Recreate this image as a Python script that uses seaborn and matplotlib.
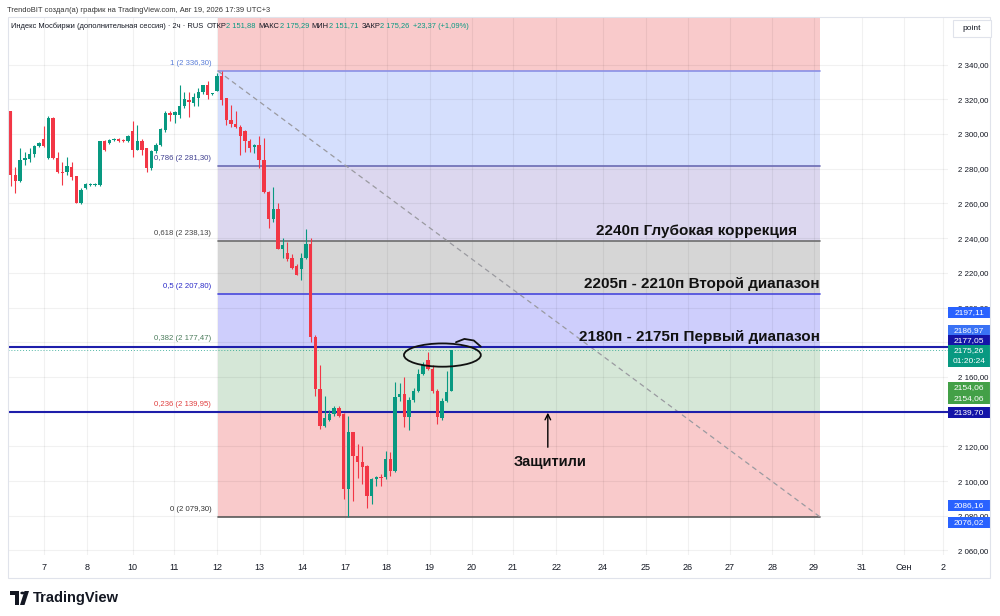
import numpy as np
import pandas as pd
import matplotlib
matplotlib.use("Agg")
import matplotlib.pyplot as plt
import seaborn as sns
from matplotlib.patches import Rectangle, Ellipse, Polygon, Circle
import matplotlib.transforms as mtransforms

# ---------------- data ----------------
opens = [2292.8, 2313.0, 2276.4, 2273.1, 2285.1, 2285.5, 2288.3, 2293.2, 2297.0, 2286.0,
         2309.2, 2286.4, 2278.3, 2277.8, 2281.2, 2275.8, 2260.4, 2268.7, 2270.6, 2270.5,
         2270.6, 2295.7, 2295.0, 2296.6, 2297.0, 2296.6, 2295.7, 2302.0, 2290.9, 2295.7,
         2291.8, 2280.3, 2289.9, 2293.8, 2302.4, 2312.1, 2311.0, 2311.1, 2315.9, 2319.8,
         2317.8, 2320.5, 2324.3, 2328.4, 2323.0, 2325.0, 2333.2, 2320.7, 2308.2, 2305.7,
         2304.3, 2301.8, 2296.0, 2292.6, 2293.8, 2285.1, 2266.8, 2251.0, 2256.8, 2234.0,
         2231.7, 2228.6, 2223.8, 2222.0, 2228.6, 2236.4, 2183.0, 2153.0, 2131.9, 2135.2,
         2138.7, 2142.2, 2138.7, 2095.3, 2128.0, 2114.6, 2110.7, 2108.8, 2091.4, 2101.1,
         2102.4, 2102.4, 2112.7, 2105.9, 2148.7, 2150.2, 2137.1, 2146.8, 2152.1, 2161.8,
         2169.5, 2164.7, 2152.1, 2136.4, 2146.0, 2151.88]
highs = [2317.8, 2313.5, 2281.2, 2291.8, 2289.9, 2291.8, 2293.8, 2295.5, 2304.4, 2310.5,
         2310.0, 2289.9, 2284.1, 2287.0, 2284.1, 2276.0, 2268.7, 2271.7, 2271.8, 2271.5,
         2296.2, 2296.3, 2297.0, 2297.8, 2297.5, 2297.0, 2299.6, 2307.2, 2305.3, 2297.0,
         2292.0, 2290.9, 2294.7, 2303.5, 2313.0, 2313.0, 2313.0, 2328.4, 2324.0, 2324.2,
         2323.6, 2326.3, 2328.5, 2330.3, 2323.8, 2335.0, 2336.3, 2321.0, 2316.9, 2313.0,
         2305.0, 2302.5, 2297.0, 2294.0, 2298.6, 2297.6, 2267.0, 2269.7, 2260.0, 2239.8,
         2237.7, 2231.0, 2225.0, 2231.2, 2245.2, 2240.2, 2184.0, 2166.6, 2149.2, 2141.0,
         2143.5, 2143.5, 2139.0, 2137.7, 2128.5, 2121.5, 2120.3, 2109.5, 2102.0, 2103.0,
         2104.0, 2117.5, 2116.5, 2156.9, 2156.4, 2160.2, 2148.3, 2153.5, 2164.7, 2168.5,
         2174.3, 2167.0, 2153.0, 2148.0, 2163.7, 2175.29]
lows = [2292.3, 2270.0, 2265.8, 2272.5, 2282.2, 2283.8, 2287.0, 2292.5, 2292.4, 2285.5,
        2285.7, 2277.4, 2270.6, 2276.4, 2273.5, 2260.0, 2259.8, 2268.3, 2270.2, 2270.0,
        2270.2, 2290.4, 2294.5, 2296.2, 2295.5, 2295.5, 2295.1, 2287.0, 2290.5, 2288.0,
        2277.8, 2279.3, 2289.3, 2293.0, 2301.0, 2307.2, 2306.5, 2309.0, 2315.0, 2309.7,
        2316.0, 2316.0, 2323.0, 2320.2, 2322.5, 2324.5, 2316.9, 2305.3, 2304.3, 2303.4,
        2288.0, 2289.9, 2289.5, 2289.3, 2280.3, 2266.0, 2245.6, 2249.4, 2233.6, 2228.6,
        2227.0, 2222.0, 2218.5, 2215.7, 2228.0, 2180.0, 2149.0, 2130.0, 2131.0, 2134.8,
        2137.5, 2137.0, 2089.5, 2079.3, 2088.6, 2102.0, 2098.2, 2084.7, 2086.6, 2097.0,
        2097.0, 2101.1, 2103.0, 2105.5, 2146.4, 2131.0, 2129.2, 2145.5, 2151.5, 2161.0,
        2164.0, 2151.0, 2132.9, 2135.2, 2145.5, 2151.71]
closes = [2314.0, 2276.4, 2273.1, 2285.1, 2286.0, 2288.3, 2293.2, 2294.7, 2293.2, 2309.2,
          2286.4, 2278.3, 2277.4, 2281.6, 2275.4, 2260.4, 2267.7, 2271.2, 2271.3, 2271.0,
          2295.7, 2290.9, 2296.6, 2297.3, 2296.2, 2295.9, 2299.0, 2290.9, 2295.7, 2290.9,
          2280.3, 2289.9, 2293.8, 2302.8, 2312.1, 2311.1, 2312.5, 2315.9, 2320.2, 2318.2,
          2321.3, 2324.0, 2328.0, 2322.7, 2323.6, 2333.2, 2319.8, 2308.2, 2305.7, 2304.3,
          2299.1, 2296.0, 2292.2, 2293.8, 2285.1, 2266.8, 2251.0, 2256.8, 2234.0, 2236.0,
          2227.9, 2222.8, 2219.0, 2228.6, 2236.4, 2183.0, 2153.0, 2131.9, 2136.4, 2138.7,
          2142.2, 2137.7, 2095.3, 2128.0, 2114.6, 2110.7, 2108.2, 2091.4, 2101.1, 2102.4,
          2101.7, 2112.7, 2105.9, 2148.7, 2150.2, 2137.1, 2146.8, 2152.1, 2161.8, 2166.6,
          2164.7, 2151.7, 2137.1, 2146.0, 2151.1, 2175.26]

date_labels = ["7", "8", "10", "11", "12", "13", "14", "17", "18", "19", "20", "21",
               "22", "24", "25", "26", "27", "28", "29", "31", "Сен", "2"]
date_pos = [8.1, 17.2, 27.0, 35.9, 45.0, 54.1, 63.3, 72.3, 81.2, 90.4, 99.4, 108.1,
            117.4, 127.3, 136.5, 145.5, 154.4, 163.5, 172.4, 182.6, 191.6, 200.0]

price_ticks = [2060, 2080, 2100, 2120, 2140, 2160, 2180, 2200, 2220, 2240,
               2260, 2280, 2300, 2320, 2340]
hidden_ticks = [2140, 2180]   # fully covered by price tags in the reference

fib_ratios = ["1", "0,786", "0,618", "0,5", "0,382", "0,236", "0"]
fib_prices = [2336.30, 2281.30, 2238.13, 2207.80, 2177.47, 2139.95, 2079.30]
fib_start, fib_end = 45.2, 173.7

user_lines = [2177.05, 2139.70]
last_price = 2175.26

tag_values = [2197.11, 2186.97, 2177.05, 2175.26, 2154.06, 2139.70, 2086.16, 2076.02]
tag_texts = ["2197,11", "2186,97", "2177,05", "2175,26\n01:20:24", "2154,06\n2154,06",
             "2139,70", "2086,16", "2076,02"]

notes = ["2240п Глубокая коррекция", "2205п - 2210п Второй диапазон",
         "2180п - 2175п Первый диапазон"]
note_prices = [2244.1, 2213.6, 2183.0]

df = pd.DataFrame({"o": opens, "h": highs, "l": lows, "c": closes})
df["i"] = np.arange(len(df))

# ---------------- style ----------------
sns.set_style("white")
plt.rcParams['font.family'] = ['Liberation Sans', 'DejaVu Sans']

W, H = 1000, 616
fig = plt.figure(figsize=(W / 100, H / 100), dpi=100)
ax = fig.add_axes([8 / W, 1 - 555 / H, 940 / W, 538 / H])
XMIN, XMAX = 0.4, 201.0
YMIN, YMAX = 2057.4, 2367.4
ax.set_xlim(XMIN, XMAX)
ax.set_ylim(YMIN, YMAX)
for s in ax.spines.values():
    s.set_visible(False)

GREEN = "#089981"
RED = "#f23645"

# grid
for p in price_ticks:
    ax.axhline(p, color=(0, 0, 0, 0.055), lw=0.8, zorder=0.3)
for d in date_pos:
    ax.axvline(d, color=(0, 0, 0, 0.055), lw=0.8, zorder=0.3)

# fib zones
zone_colors = ["#f9cacb", "#d5dffd", "#dcd7ef", "#d6d6d6", "#cecefc", "#d5e7d7", "#f9cacb"]
bounds = [YMAX + 5] + fib_prices
for k in range(len(zone_colors)):
    ax.fill_between([fib_start, fib_end], bounds[k + 1], bounds[k],
                    color=zone_colors[k], lw=0, zorder=0.2)
line_colors = ["#8a90e6", "#6b6bb3", "#6e6e6e", "#4848dc", "#4f8a63", "#e04848", "#5a5a5a"]
label_colors = ["#5a7ed8", "#3f3f8f", "#444444", "#2b2bc8", "#4c7c5c", "#e04040", "#333333"]
for r, p, lc, tc in zip(fib_ratios, fib_prices, line_colors, label_colors):
    ax.plot([fib_start, fib_end], [p, p], color=lc, lw=1.2, zorder=1)
    pr = f"{p:,.2f}".replace(",", " ").replace(".", ",")
    ax.text(fib_start - 1.4, p + 4.4, f"{r} ({pr})", ha="right", va="center",
            fontsize=5.6, color=tc, zorder=4)

# diagonal dashed trend line
trend = pd.DataFrame({"x": [fib_start, fib_end], "y": [fib_prices[0], fib_prices[-1]]})
sns.lineplot(data=trend, x="x", y="y", ax=ax, color="#9a9aa0", lw=0.9,
             linestyle=(0, (4, 3)), zorder=1.1)

# last price dotted line
ax.axhline(last_price, color=GREEN, lw=0.7, ls=(0, (1, 2)), alpha=0.7, zorder=1.2)
# user horizontal lines
for p in user_lines:
    ax.axhline(p, color="#1e1eaa", lw=1.5, zorder=2)

# candles
up = df["c"] >= df["o"]
cols = np.where(up, GREEN, RED)
ax.vlines(df["i"], df["l"], df["h"], colors=cols, lw=0.8, zorder=3)
body_lo = np.minimum(df["o"], df["c"])
body_h = np.maximum(np.abs(df["c"] - df["o"]), 0.5)
ax.bar(df["i"], body_h, bottom=body_lo, width=0.72, color=cols, lw=0, zorder=3.1)

# annotations
for k in range(3):
    ax.text(168.8 if k == 0 else 173.7, note_prices[k], notes[k], ha="right", va="center",
            fontsize=11, fontweight="bold", color="#111111", zorder=6)
ax.text(116.1, 2111.0, "Защитили", ha="center", va="center", fontsize=10.5,
        fontweight="bold", color="#111111", zorder=6)
ax.annotate("", xy=(115.6, 2139.4), xytext=(115.6, 2119.5),
            arrowprops=dict(arrowstyle="->", lw=1.0, color="black",
                            shrinkA=0, shrinkB=0, mutation_scale=10), zorder=6)

# hand drawn ellipse
ax.add_patch(Ellipse((93.1, 2172.6), 16.4, 13.4, fill=False, ec="#111111", lw=1.3, zorder=6))
ax.plot([96.0, 97.8, 99.8, 101.3], [2180.0, 2181.9, 2181.0, 2177.5], color="#111111",
        lw=1.3, zorder=6)

# axes ticks
ax.yaxis.tick_right()
ax.set_yticks(price_ticks)
ax.set_yticklabels(["" if p in hidden_ticks else f"{p:,}".replace(",", " ") + ",00"
                    for p in price_ticks])
ax.tick_params(axis="y", length=0, pad=7, labelsize=5.7, labelcolor="#131722")
ax.set_xticks(date_pos)
ax.set_xticklabels(date_labels)
ax.tick_params(axis="x", length=0, pad=6, labelsize=6.5, labelcolor="#131722")
ax.set_xlabel("")
ax.set_ylabel("")

# price tags
tag_colors = ["#2962ff", "#3a72f5", "#1414a8", "#089981", "#43a047", "#1414a8", "#2962ff", "#2962ff"]
tag_shift = [0, 0, 7, 0, 0, 0, 0, 0]   # pixel shift (up) to avoid overlap
ppx = (YMAX - YMIN) / 538.0
row = 11 * ppx
blend = mtransforms.blended_transform_factory(ax.transAxes, ax.transData)
for v, t, c, sh in zip(tag_values, tag_texts, tag_colors, tag_shift):
    yc = v + sh * ppx
    n = t.count("\n") + 1
    top = yc + row / 2
    ax.add_patch(Rectangle((1.0, top - n * row), 0.0447, n * row, transform=blend,
                           facecolor=c, edgecolor="none", clip_on=False, zorder=7))
    for k, line in enumerate(t.split("\n")):
        ax.text(1.0224, yc - k * row, line, transform=blend, ha="center", va="center",
                fontsize=6.0, color="white", clip_on=False, zorder=8)

# outer frame
fig.patches.append(Rectangle((8 / W, 1 - 578 / H), 982 / W, 561 / H, transform=fig.transFigure,
                             fill=False, ec="#e0e3eb", lw=0.8))
# "point" box
fig.patches.append(Rectangle((953 / W, 1 - 37 / H), 38 / W, 17 / H, transform=fig.transFigure,
                             fc="white", ec="#e0e3eb", lw=0.8))
fig.text(972 / W, 1 - 28.5 / H, "point", ha="center", va="center", fontsize=6, color="#131722")

# header
fig.text(7 / W, 1 - 10 / H, "TrendoBIT создал(а) график на TradingView.com, Авг 19, 2026 17:39 UTC+3",
         fontsize=5.45, color="#333333", va="center", ha="left")

renderer = fig.canvas.get_renderer()
def seq_text(x_px, y_px, parts, fs):
    x = x_px
    for s, c, gap in parts:
        t = fig.text(x / W, 1 - y_px / H, s, color=c, fontsize=fs, va="center", ha="left")
        x += t.get_window_extent(renderer).width + gap

DK = "#131722"
seq_text(11, 26, [("Индекс Мосбиржи (дополнительная сессия) · 2ч · RUS", DK, 3),
                  ("ОТКР", DK, 0), ("2 151,88", GREEN, 3),
                  ("МАКС", DK, 0), ("2 175,29", GREEN, 3),
                  ("МИН", DK, 0), ("2 151,71", GREEN, 3),
                  ("ЗАКР", DK, 0), ("2 175,26", GREEN, 3),
                  ("+23,37 (+1,09%)", GREEN, 0)], 5.4)

# footer logo
fig.patches.append(Rectangle((10 / W, 1 - 595 / H), 9 / W, 4 / H, transform=fig.transFigure,
                             fc="#131722", ec="none"))
fig.patches.append(Rectangle((14.5 / W, 1 - 605 / H), 4.5 / W, 12 / H, transform=fig.transFigure,
                             fc="#131722", ec="none"))
fig.patches.append(Circle((22.5 / W, 1 - 593 / H), 2.2 / W, transform=fig.transFigure,
                          fc="#131722", ec="none"))
fig.patches.append(Polygon([(24.5 / W, 1 - 591 / H), (29 / W, 1 - 591 / H),
                            (24.5 / W, 1 - 605 / H), (20 / W, 1 - 605 / H)],
                           closed=True, transform=fig.transFigure, fc="#131722", ec="none"))
fig.text(33 / W, 1 - 598 / H, "TradingView", fontsize=10.5, fontweight="bold",
         color="#131722", va="center", ha="left")

fig.savefig("out.png", dpi=100)
